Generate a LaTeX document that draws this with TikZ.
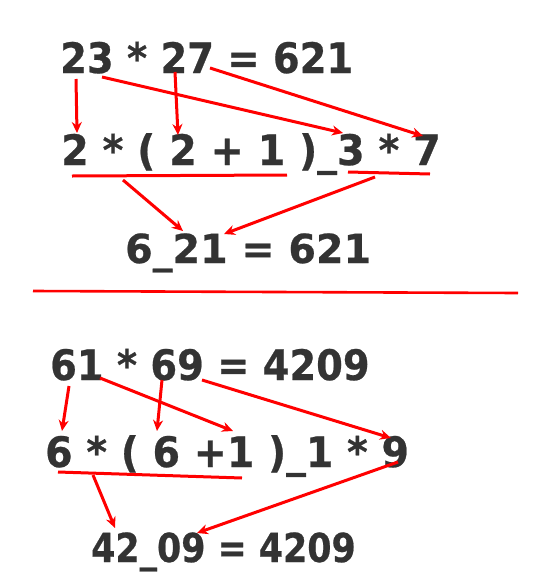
\documentclass[tikz,border=0pt]{standalone}
\usepackage{fontspec}
\usepackage{graphicx}
\setmainfont{DejaVu Sans}[BoldFeatures={FakeBold=0.6}]
\usetikzlibrary{arrows.meta}
\definecolor{ink}{HTML}{333333}
\definecolor{mark}{HTML}{FF0000}
\newcommand{\hsq}[2]{\scalebox{#1}[1]{#2}}
\tikzset{
  eq/.style={anchor=base west, inner sep=0pt, text=ink, font=\fontsize{42}{42}\selectfont\bfseries},
  eqs/.style={eq, font=\fontsize{40}{40}\selectfont\bfseries},
  link/.style={draw=mark, line width=3pt, -{Stealth[length=11pt,width=10pt]}},
  bar/.style={draw=mark, line width=3pt}
}
\begin{document}
\begin{tikzpicture}[x=1pt,y=-1pt]
\useasboundingbox (0,0) rectangle (557,587);
% top block
\node[eq] (t1) at (60,73) {\hsq{0.915}{23 * 27 = 621}};
\node[eq] (t2) at (61,165) {\hsq{0.945}{2 * ( 2 + 1 )\_3 * 7}};
\node[eqs] (t3) at (125,263) {\hsq{0.99}{6\_21 = 621}};
\coordinate (a1s) at (76,79);   \coordinate (a1e) at (77,133);
\coordinate (a2s) at (175,72);  \coordinate (a2e) at (178,135);
\coordinate (a3s) at (102,77);  \coordinate (a3e) at (343,133);
\coordinate (a4s) at (210,68);  \coordinate (a4e) at (423,136);
\coordinate (u1s) at (72,176);  \coordinate (u1e) at (287,175);
\coordinate (u2s) at (348,172); \coordinate (u2e) at (430,174);
\coordinate (a5s) at (123,180); \coordinate (a5e) at (183,231);
\coordinate (a6s) at (375,177); \coordinate (a6e) at (224,234);
\draw[link] (a1s) -- (a1e);
\draw[link] (a2s) -- (a2e);
\draw[link] (a3s) -- (a3e);
\draw[link] (a4s) -- (a4e);
\draw[bar] (u1s) -- (u1e);
\draw[bar] (u2s) -- (u2e);
\draw[link] (a5s) -- (a5e);
\draw[link] (a6s) -- (a6e);
% separator
\coordinate (s1) at (33,291); \coordinate (s2) at (518,293);
\draw[bar, line width=2.6pt] (s1) -- (s2);
% bottom block
\node[eq] (b1) at (50,380) {\hsq{0.914}{61 * 69 = 4209}};
\node[eq] (b2) at (45,467) {\hsq{0.94}{6 * ( 6 +1 )\_1 * 9}};
\node[eqs] (b3) at (91,562) {\hsq{0.87}{42\_09 = 4209}};
\coordinate (c1s) at (69,386);  \coordinate (c1e) at (62,431);
\coordinate (c2s) at (162,380); \coordinate (c2e) at (157,431);
\coordinate (c3s) at (100,378); \coordinate (c3e) at (233,431);
\coordinate (c4s) at (202,380); \coordinate (c4e) at (391,438);
\coordinate (v1s) at (58,472);  \coordinate (v1e) at (242,478);
\coordinate (c5s) at (93,475);  \coordinate (c5e) at (115,528);
\coordinate (c6s) at (398,462); \coordinate (c6e) at (197,533);
\draw[link] (c1s) -- (c1e);
\draw[link] (c2s) -- (c2e);
\draw[link] (c3s) -- (c3e);
\draw[link] (c4s) -- (c4e);
\draw[bar] (v1s) -- (v1e);
\draw[link] (c5s) -- (c5e);
\draw[link] (c6s) -- (c6e);
\end{tikzpicture}
\end{document}
